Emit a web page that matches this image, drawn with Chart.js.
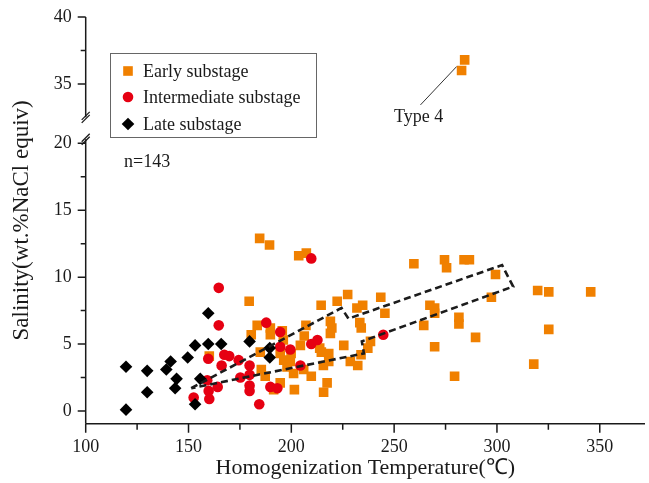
<!DOCTYPE html>
<html>
<head>
<meta charset="utf-8">
<script src="https://cdn.jsdelivr.net/npm/chart.js@4.4.1/dist/chart.umd.min.js"></script>
<style>
  html, body { margin: 0; padding: 0; background: #fff; }
  #c { display: block; }
</style>
</head>
<body>
<canvas id="c" width="649" height="483" style="width:649px;height:483px"></canvas>
<script>
// Fluid inclusion data: [homogenization temperature (°C), salinity (wt.% NaCl equiv)]
const earlySubstage = [
  [184.6,12.9],[189.4,12.4],[203.6,11.6],[207.3,11.8],[179.5,8.2],
  [183.4,6.4],[180.5,5.7],[189.8,6.2],[189.8,5.7],[195.6,6.0],
  [184.9,4.4],[185.4,3.1],[187.3,2.6],[194.6,4.3],[196.3,3.8],
  [199.5,3.7],[201.1,2.8],[194.6,2.1],[191.4,1.6],[201.5,1.6],
  [197.9,3.3],[206.3,5.6],[204.4,4.9],[207.1,6.4],[206.0,3.1],
  [209.7,2.6],[199.9,4.3],[214.5,7.9],[222.3,8.2],[227.4,8.7],
  [231.9,7.7],[234.7,7.9],[243.5,8.5],[219.0,6.7],[219.7,6.2],
  [219.0,5.8],[233.3,6.6],[234.0,6.2],[225.5,4.9],[213.8,4.7],
  [214.6,4.4],[218.2,4.3],[218.2,3.7],[215.6,3.4],[228.7,3.7],
  [232.3,3.4],[238.5,5.2],[237.2,4.7],[233.9,4.2],[217.4,2.1],
  [215.7,1.4],[259.6,11.0],[274.5,11.3],[275.5,10.7],[284.0,11.3],
  [286.6,11.3],[299.3,10.2],[297.3,8.5],[245.5,7.3],[267.4,7.9],
  [269.7,7.7],[269.7,7.3],[281.5,7.0],[281.5,6.5],[264.4,6.4],
  [289.6,5.5],[269.7,4.8],[279.4,2.6],[319.8,9.0],[325.2,8.9],
  [345.6,8.9],[325.2,6.1],[317.9,3.5],[196.1,5.3],[160.1,4.1],
  [284.3,36.8],[282.8,36.0]
];
const intermediateSubstage = [
  [164.7,9.2],[164.7,6.4],[159.6,3.9],[167.4,4.2],[169.8,4.1],
  [166.1,3.4],[174.4,3.8],[159.1,2.3],[164.2,1.8],[159.8,1.5],
  [160.1,0.9],[152.5,1.0],[175.2,2.5],[179.7,3.4],[179.7,2.7],
  [179.7,1.9],[179.7,1.5],[184.4,0.5],[187.8,6.6],[194.6,5.9],
  [194.6,4.8],[199.5,4.6],[204.4,3.4],[189.8,1.8],[193.2,1.7],
  [209.7,11.4],[209.7,5.0],[212.7,5.3],[244.7,5.7]
];
const lateSubstage = [
  [119.6,3.3],[119.6,0.1],[129.9,3.0],[129.9,1.4],[139.2,3.1],
  [141.3,3.7],[144.2,2.4],[143.5,1.7],[149.6,4.0],[153.2,4.9],
  [159.6,5.0],[159.6,7.3],[165.9,5.0],[155.7,2.4],[153.2,0.5],
  [179.7,5.2],[189.5,4.7],[189.5,4.0]
];
// Dashed arrow outlining the cooling / dilution trend
const trendArrow = [
  [151.3,1.7],[224.4,7.7],[227.8,6.9],[302.5,10.9],[307.9,9.3],
  [234.3,5.2],[235.3,4.3],[151.3,1.7]
];
// Leader line and label for the high-salinity group
const type4Leader = [[262.8,29.7],[280.4,36.3]];
const type4Label = [261.9,26.6];
const sampleCountText = 'n=143';

const xMajorTicks = [100,150,200,250,300,350];
const xMinorTicks = [125,175,225,275,325];
const yMajorTicks = [0,5,10,15,20,35,40];
const yMinorTicks = [2.5,7.5,12.5,17.5,37.5];

// Broken salinity axis: 20–35 is compressed into a short gap
const BREAK_LO = 20, BREAK_HI = 35, BREAK_GAP = 4.44;
function toAxis(v) {
  if (v <= BREAK_LO) return v;
  if (v >= BREAK_HI) return v - (BREAK_HI - BREAK_LO) + BREAK_GAP;
  return BREAK_LO + (v - BREAK_LO) / (BREAK_HI - BREAK_LO) * BREAK_GAP;
}
const toPt = ([x, y]) => ({ x, y: toAxis(y) });

const FONT = "'Liberation Serif', 'Times New Roman', serif";
const INK = '#1a1a1a';
const ORANGE = '#F08000';
const RED = '#E60012';
const BLACK = '#000000';

const seriesStyles = [
  { label: 'Early substage', pointStyle: 'rect', radius: 6.8, color: ORANGE },
  { label: 'Intermediate substage', pointStyle: 'circle', radius: 5.3, color: RED },
  { label: 'Late substage', pointStyle: 'rectRot', radius: 6.3, color: BLACK }
];

const decorations = {
  id: 'decorations',
  afterDraw(chart) {
    const { ctx, chartArea, scales: { x, y } } = chart;
    const ax = chartArea.left, ay = chartArea.bottom;
    ctx.save();
    ctx.strokeStyle = INK;
    ctx.lineWidth = 1.5;
    ctx.lineCap = 'butt';

    // x axis line + ticks
    ctx.beginPath();
    ctx.moveTo(ax, ay); ctx.lineTo(chartArea.right, ay);
    xMajorTicks.forEach(v => { const p = x.getPixelForValue(v); ctx.moveTo(p, ay); ctx.lineTo(p, ay + 9); });
    xMinorTicks.forEach(v => { const p = x.getPixelForValue(v); ctx.moveTo(p, ay); ctx.lineTo(p, ay + 6); });
    ctx.stroke();

    // y axis line with break
    const lowEnd = y.getPixelForValue(20.3);
    const highStart = y.getPixelForValue(21.94);
    ctx.beginPath();
    ctx.moveTo(ax, ay); ctx.lineTo(ax, lowEnd);
    ctx.moveTo(ax, highStart); ctx.lineTo(ax, chartArea.top);
    yMajorTicks.forEach(v => { const p = y.getPixelForValue(toAxis(v)); ctx.moveTo(ax, p); ctx.lineTo(ax - 8, p); });
    yMinorTicks.forEach(v => { const p = y.getPixelForValue(toAxis(v)); ctx.moveTo(ax, p); ctx.lineTo(ax - 5, p); });
    ctx.stroke();

    // break marks
    ctx.lineWidth = 1.3;
    ctx.beginPath();
    [highStart, lowEnd].forEach(p => {
      [-1.5, 1.5].forEach(d => {
        ctx.moveTo(ax - 4, p + d + 4);
        ctx.lineTo(ax + 4, p + d - 4);
      });
    });
    ctx.stroke();

    // legend
    const lx = 110.5, ly = 53.5, lw = 206, lh = 84;
    ctx.strokeStyle = '#666';
    ctx.lineWidth = 1;
    ctx.strokeRect(lx, ly, lw, lh);
    ctx.font = '18px ' + FONT;
    ctx.textBaseline = 'middle';
    ctx.textAlign = 'left';
    const rows = [71, 97, 124];
    seriesStyles.forEach((s, i) => {
      ctx.fillStyle = s.color;
      ctx.strokeStyle = s.color;
      Chart.helpers.drawPoint(ctx, { pointStyle: s.pointStyle, radius: s.radius, rotation: 0, borderWidth: 0 }, 128, rows[i]);
      ctx.fillStyle = INK;
      ctx.fillText(s.label, 143, rows[i] + 1);
    });

    // sample count
    ctx.fillStyle = INK;
    ctx.fillText(sampleCountText, 124, 162);

    // Type 4 label
    ctx.textAlign = 'center';
    ctx.fillText('Type 4', x.getPixelForValue(type4Label[0]), y.getPixelForValue(toAxis(type4Label[1])));
    ctx.restore();
  }
};

const datasets = [
  {
    label: 'trend', data: trendArrow.map(toPt), showLine: true, fill: false,
    borderColor: '#1c1c1c', borderWidth: 2.6, borderDash: [7, 4], pointRadius: 0, order: 0
  },
  {
    label: 'leader', data: type4Leader.map(toPt), showLine: true, fill: false,
    borderColor: '#333', borderWidth: 1, pointRadius: 0, order: 0
  },
  ...[lateSubstage, intermediateSubstage, earlySubstage].map((arr, k) => {
    const s = seriesStyles[2 - k];
    return {
      label: s.label, data: arr.map(toPt), showLine: false,
      pointStyle: s.pointStyle, pointRadius: s.radius, pointHoverRadius: s.radius,
      backgroundColor: s.color, borderColor: s.color, borderWidth: 0, order: k + 1
    };
  })
];

new Chart(document.getElementById('c'), {
  type: 'scatter',
  data: { datasets },
  options: {
    responsive: false,
    animation: false,
    events: [],
    layout: { autoPadding: false, padding: { top: 17, right: 4, left: 0, bottom: 0 } },
    plugins: { legend: { display: false }, tooltip: { enabled: false } },
    scales: {
      x: {
        type: 'linear', min: 100, max: 372,
        grid: { display: false, drawTicks: false, tickLength: 0 }, border: { display: false },
        afterBuildTicks: s => { s.ticks = xMajorTicks.map(v => ({ value: v })); },
        afterFit: s => { s.height = 59.3; },
        ticks: { font: { family: FONT, size: 18 }, color: INK, padding: 13, maxRotation: 0, autoSkip: false },
        title: { display: true, text: 'Homogenization Temperature(℃)', font: { family: FONT, size: 22 }, color: INK, padding: { top: 0, bottom: 2 } }
      },
      y: {
        type: 'linear', min: -0.95, max: toAxis(40),
        // tick marks are drawn by the decorations plugin; the invisible tick length only spaces the labels
        grid: { display: true, drawOnChartArea: false, drawTicks: true, tickLength: 14, color: 'rgba(0,0,0,0)', tickColor: 'rgba(0,0,0,0)' },
        border: { display: false },
        afterBuildTicks: s => { s.ticks = yMajorTicks.map(v => ({ value: toAxis(v) })); },
        afterFit: s => { s.width = 85.7; },
        ticks: {
          font: { family: FONT, size: 18 }, color: INK, padding: 0, autoSkip: false,
          callback: (val, i) => String(yMajorTicks[i])
        },
        title: { display: true, text: 'Salinity(wt.%NaCl equiv)', font: { family: FONT, size: 23 }, color: INK, padding: { top: 8, bottom: 0 } }
      }
    }
  },
  plugins: [decorations]
});
</script>
</body>
</html>
